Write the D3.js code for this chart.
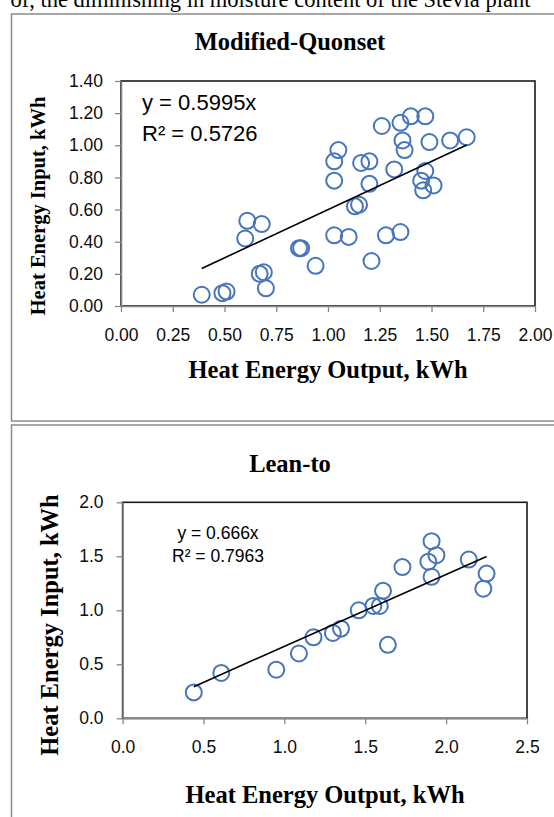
<!DOCTYPE html>
<html><head><meta charset="utf-8">
<script src="https://cdn.jsdelivr.net/npm/d3@7"></script>
<style>body{margin:0;background:#fff}svg{display:block}</style>
</head><body><svg id="c" width="554" height="817"></svg>
<script>
// ---- data ----
const quonsetX = [0.39,0.49,0.51,0.61,0.60,0.68,0.67,0.69,0.70,0.86,0.87,0.94,1.03,1.10,1.21,1.28,1.35,1.03,1.03,1.05,1.13,1.15,1.16,1.20,1.20,1.26,1.32,1.35,1.36,1.37,1.40,1.47,1.49,1.47,1.45,1.46,1.51,1.59,1.67];
const quonsetY = [0.07,0.08,0.09,0.53,0.42,0.51,0.20,0.21,0.11,0.36,0.36,0.25,0.44,0.43,0.28,0.44,0.46,0.78,0.90,0.97,0.62,0.63,0.89,0.90,0.76,1.12,0.85,1.14,1.03,0.97,1.18,1.18,1.02,0.84,0.78,0.72,0.75,1.03,1.05];
const quonsetSlope = 0.5995;
const quonsetEq = ["y = 0.5995x", "R² = 0.5726"];
const quonsetXTicks = [0,0.25,0.5,0.75,1,1.25,1.5,1.75,2];
const quonsetYTicks = [0,0.2,0.4,0.6,0.8,1.0,1.2,1.4];

const leanX = [0.44,0.61,0.95,1.09,1.18,1.30,1.35,1.46,1.55,1.59,1.61,1.64,1.73,1.89,1.91,1.94,1.91,2.14,2.25,2.23];
const leanY = [0.24,0.42,0.45,0.60,0.75,0.79,0.83,1.00,1.04,1.04,1.18,0.68,1.40,1.45,1.64,1.51,1.31,1.47,1.34,1.20];
const leanSlope = 0.666;
const leanEq = ["y = 0.666x", "R² = 0.7963"];
const leanXTicks = [0,0.5,1,1.5,2,2.5];
const leanYTicks = [0,0.5,1,1.5,2];

const titles = ["Modified-Quonset", "Lean-to"];
const xTitle = "Heat Energy Output, kWh";
const yTitle = "Heat Energy Input, kWh";
const topText = "of, the diminishing in moisture content of the Stevia plant";

const svg = d3.select("#c");
const serif = "'Liberation Serif','Times New Roman',serif";
const sans = "'Liberation Sans',Arial,sans-serif";
const blue = "#4674bd";
const axisGray = "#868686";

svg.append("text").attr("x",10.5).attr("y",6.5).attr("font-family",serif).attr("font-size",22.5).attr("fill","#000").text(topText);

// panels
svg.append("rect").attr("x",11.5).attr("y",14).attr("width",560).attr("height",407).attr("fill","none").attr("stroke","#8c8c8c").attr("stroke-width",1.5);
svg.append("rect").attr("x",11.5).attr("y",425).attr("width",560).attr("height",420).attr("fill","none").attr("stroke","#8c8c8c").attr("stroke-width",1.5);

function chart(o){
  const x = d3.scaleLinear().domain(o.xDom).range([o.left,o.right]);
  const y = d3.scaleLinear().domain(o.yDom).range([o.bottom,o.top]);
  const g = svg.append("g");
  // plot frame
  g.append("rect").attr("x",o.left).attr("y",o.top).attr("width",o.right-o.left).attr("height",o.bottom-o.top)
    .attr("fill","none").attr("stroke","#1a1a1a").attr("stroke-width",1.6);
  // axes
  const ax = g.append("g").attr("transform",`translate(0,${o.bottom})`)
    .call(d3.axisBottom(x).tickValues(o.xTicks).tickFormat(d3.format(o.fmt)).tickSize(6).tickSizeOuter(0).tickPadding(8));
  const ay = g.append("g").attr("transform",`translate(${o.left},0)`)
    .call(d3.axisLeft(y).tickValues(o.yTicks).tickFormat(d3.format(o.fmt)).tickSize(6).tickSizeOuter(0).tickPadding(o.yPad));
  [ax,ay].forEach(a=>{
    a.select(".domain").attr("stroke",axisGray).attr("stroke-width",1.6);
    a.selectAll(".tick line").attr("stroke",axisGray).attr("stroke-width",1.3);
    a.selectAll(".tick text").attr("font-family",sans).attr("font-size",o.tickSize).attr("fill","#0d0d0d");
  });
  ax.selectAll(".tick text").attr("dy",null).attr("y",o.xLabelY-o.bottom).attr("dominant-baseline","auto");
  // points
  g.append("g").selectAll("circle").data(o.xs.map((d,i)=>[d,o.ys[i]])).join("circle")
    .attr("cx",d=>x(d[0])).attr("cy",d=>y(d[1])).attr("r",8)
    .attr("fill","none").attr("stroke",blue).attr("stroke-width",2);
  // trendline
  const ext = d3.extent(o.xs);
  g.append("line").attr("x1",x(ext[0])).attr("y1",y(ext[0]*o.slope)).attr("x2",x(ext[1])).attr("y2",y(ext[1]*o.slope))
    .attr("stroke","#000").attr("stroke-width",1.6);
  // equation
  o.eq.forEach((t,i)=>{
    g.append("text").attr("x",o.eqX).attr("y",o.eqY[i]).attr("text-anchor",o.eqAnchor)
      .attr("font-family",sans).attr("font-size",o.eqSize).attr("fill","#000").text(t);
  });
  // titles
  g.append("text").attr("x",o.titleX).attr("y",o.titleY).attr("text-anchor","middle").attr("font-family",serif)
    .attr("font-weight","bold").attr("font-size",24.5).text(o.title);
  g.append("text").attr("x",o.xtX).attr("y",o.xtY).attr("text-anchor","middle").attr("font-family",serif)
    .attr("font-weight","bold").attr("font-size",24.5).text(xTitle);
  g.append("text").attr("transform",`translate(${o.ytX},${o.ytY}) rotate(-90)`).attr("text-anchor","middle").attr("font-family",serif)
    .attr("font-weight","bold").attr("font-size",o.ytSize).text(yTitle);
}

chart({xs:quonsetX, ys:quonsetY, slope:quonsetSlope, eq:quonsetEq, xTicks:quonsetXTicks, yTicks:quonsetYTicks,
  xDom:[0,2], yDom:[0,1.4], left:121, right:535, top:81, bottom:306, fmt:".2f", tickSize:17.5, xLabelY:341, yPad:12,
  eqX:142, eqY:[110,141], eqAnchor:"start", eqSize:22,
  title:titles[0], titleX:290, titleY:50, xtX:328, xtY:378, ytX:45, ytY:206, ytSize:20.5});

chart({xs:leanX, ys:leanY, slope:leanSlope, eq:leanEq, xTicks:leanXTicks, yTicks:leanYTicks,
  xDom:[0,2.5], yDom:[0,2], left:122.6, right:527, top:502.3, bottom:718.3, fmt:".1f", tickSize:17.5, xLabelY:753, yPad:13,
  eqX:218, eqY:[538.5,562], eqAnchor:"middle", eqSize:17.5,
  title:titles[1], titleX:290, titleY:472, xtX:325, xtY:803, ytX:58, ytY:625, ytSize:24.5});
</script></body></html>
